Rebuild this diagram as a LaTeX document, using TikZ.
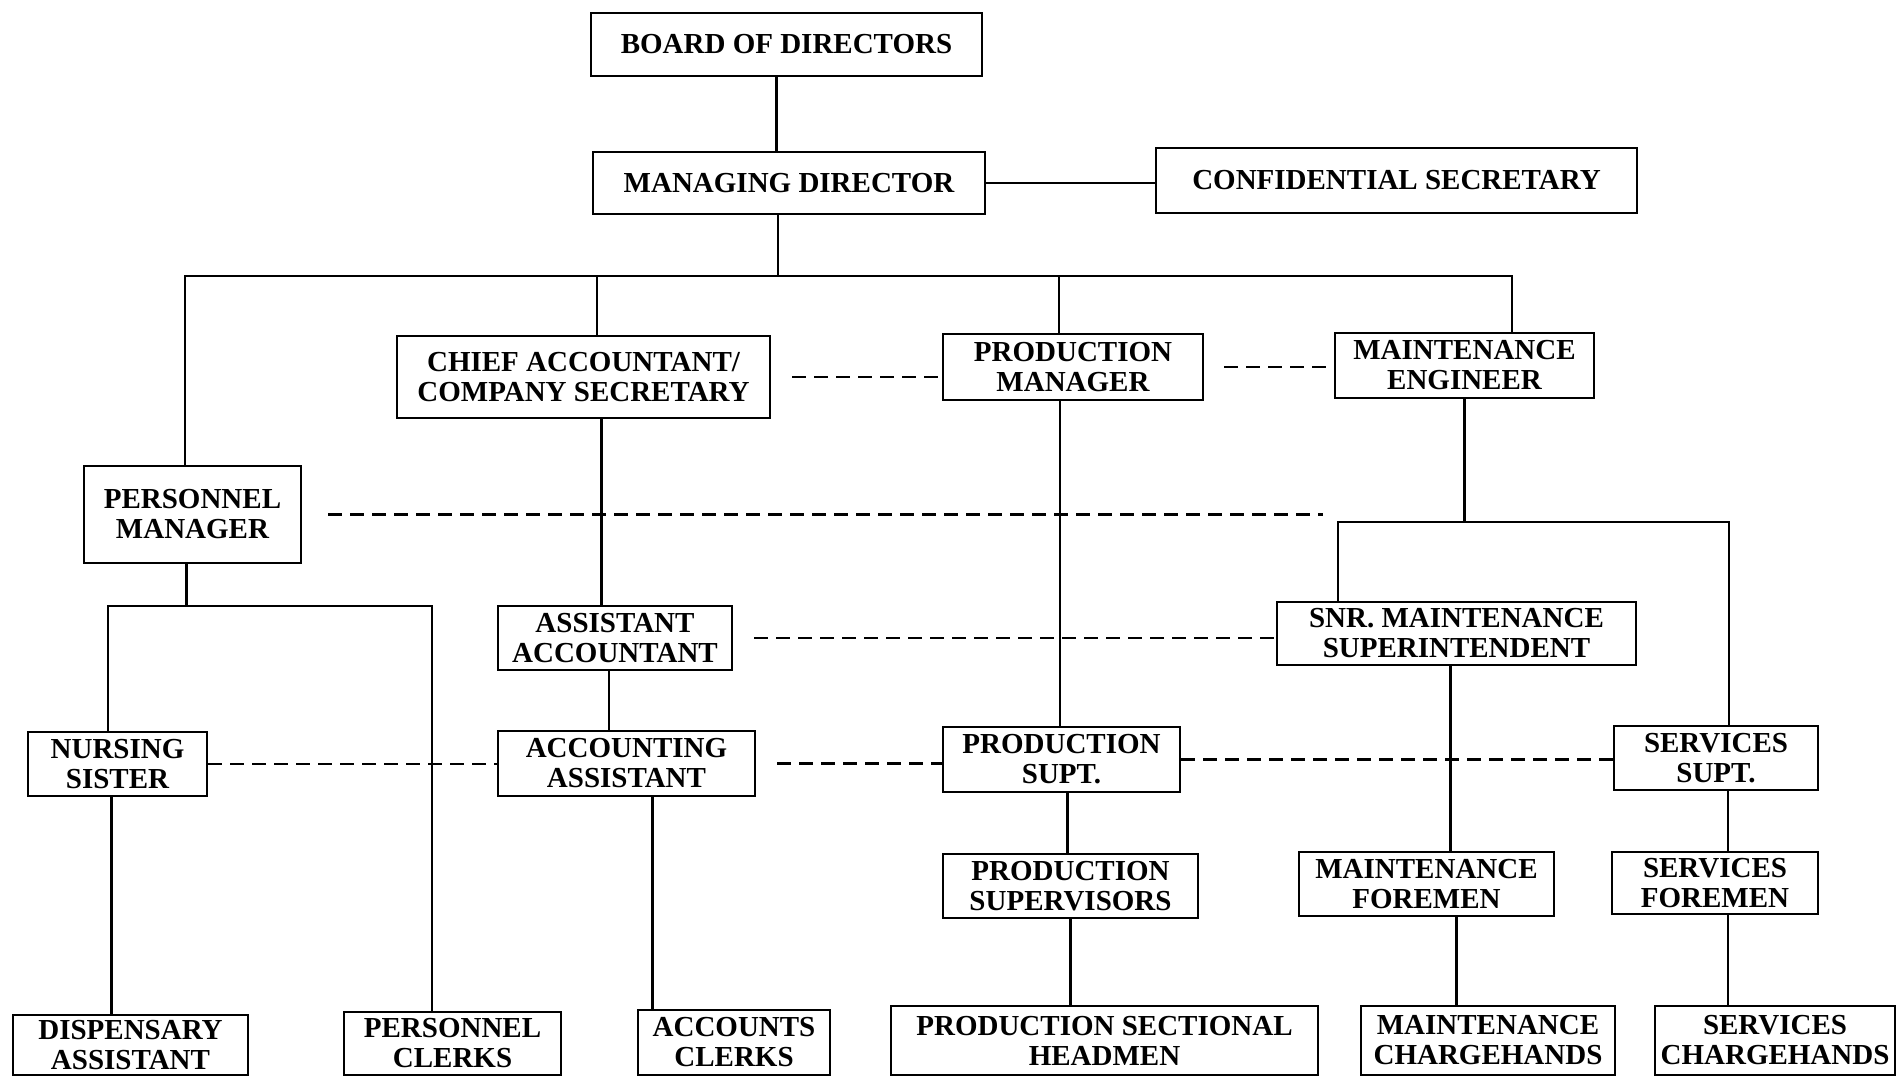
\documentclass[tikz,border=0pt]{standalone}
\usepackage{fontspec}
\setmainfont{Liberation Serif}
\usetikzlibrary{calc}

\begin{document}
\begin{tikzpicture}[x=0.5pt, y=-0.5pt, line width=1.1pt,
  post/.style={draw, line width=1.3pt, inner sep=0pt, align=center,
    font=\fontsize{14.5}{15}\selectfont\bfseries},
  staffline/.style={dash pattern=on 7pt off 4pt}]
\useasboundingbox (0,0) rectangle (1899,1077);
\clip (0,0) rectangle (1899,1077);
\fill[white] (0,0) rectangle (1899,1077);

% posts: name / left / top / right / bottom / title
\foreach \nm/\xa/\ya/\xb/\yb/\txt in {
  board/591/13/982/76/{BOARD OF DIRECTORS},
  md/593/152/985/214/{MANAGING DIRECTOR},
  conf/1156/148/1637/213/{CONFIDENTIAL SECRETARY},
  chief/397/336/770/418/{CHIEF ACCOUNTANT/\\COMPANY SECRETARY},
  pm/943/334/1203/400/{PRODUCTION\\MANAGER},
  me/1335/333/1594/398/{MAINTENANCE\\ENGINEER},
  pers/84/466/301/563/{PERSONNEL\\MANAGER},
  aa/498/606/732/670/{ASSISTANT\\ACCOUNTANT},
  snr/1277/602/1636/665/{SNR. MAINTENANCE\\SUPERINTENDENT},
  nurse/28/732/207/796/{NURSING\\SISTER},
  acas/498/731/755/796/{ACCOUNTING\\ASSISTANT},
  ps/943/727/1180/792/{PRODUCTION\\SUPT.},
  ss/1614/726/1818/790/{SERVICES\\SUPT.},
  psup/943/854/1198/918/{PRODUCTION\\SUPERVISORS},
  mf/1299/852/1554/916/{MAINTENANCE\\FOREMEN},
  sf/1612/852/1818/914/{SERVICES\\FOREMEN},
  disp/13/1015/248/1075/{DISPENSARY\\ASSISTANT},
  pc/344/1012/561/1075/{PERSONNEL\\CLERKS},
  ac/638/1010/830/1075/{ACCOUNTS\\CLERKS},
  psh/891/1006/1318/1075/{PRODUCTION SECTIONAL\\HEADMEN},
  mc/1361/1006/1615/1075/{MAINTENANCE\\CHARGEHANDS},
  sc/1655/1006/1895/1075/{SERVICES\\CHARGEHANDS}}
  \node[post, minimum width={(\xb-\xa)*0.5pt}, minimum height={(\yb-\ya)*0.5pt}]
    (\nm) at ({(\xa+\xb)/2},{(\ya+\yb)/2}) {\txt};

% line of command
\draw ([xshift=-5pt]board.south) -- ([xshift=-5pt]board.south |- md.north);
\draw (md.east) -- (md.east -| conf.west);
\coordinate (busL) at (185,276);
\coordinate (busR) at (1512,276);
\draw ([xshift=-5.5pt]md.south) -- ([xshift=-5.5pt]md.south |- busL);
\draw (pers.north -| busL) -- (busL) -- (busR) -- (busR |- me.north);
\draw ([xshift=6.75pt]chief.north) -- ([xshift=6.75pt]chief.north |- busL);
\draw ([xshift=-7pt]pm.north) -- ([xshift=-7pt]pm.north |- busL);

\draw ([xshift=9pt]chief.south) -- ([xshift=9pt]chief.south |- aa.north);
\draw ([xshift=-3pt]aa.south) -- ([xshift=-3pt]aa.south |- acas.north);
\draw ([xshift=13pt]acas.south) -- ([xshift=13pt]acas.south |- ac.north);
\draw ([xshift=-6.5pt]pm.south) -- ([xshift=-6.5pt]pm.south |- ps.north);
\draw ([xshift=3pt]ps.south) -- ([xshift=3pt]ps.south |- psup.north);
\draw (psup.south) -- (psup.south |- psh.north);

\coordinate (bus2L) at (1338,522);
\coordinate (bus2R) at (1729,522);
\draw (me.south) -- (me.south |- bus2L);
\draw (snr.north -| bus2L) -- (bus2L) -- (bus2R) -- (bus2R |- ss.north);
\draw ([xshift=-3pt]snr.south) -- ([xshift=-3pt]snr.south |- mf.north);
\draw ([xshift=15pt]mf.south) -- ([xshift=15pt]mf.south |- mc.north);
\draw ([xshift=6pt]ss.south) -- ([xshift=6pt]ss.south |- sf.north);
\draw ([xshift=6.5pt]sf.south) -- ([xshift=6.5pt]sf.south |- sc.north);

\coordinate (bus3L) at (108,606);
\coordinate (bus3R) at (432,606);
\draw ([xshift=-3pt]pers.south) -- ([xshift=-3pt]pers.south |- bus3L);
\draw (nurse.north -| bus3L) -- (bus3L) -- (bus3R) -- (bus3R |- pc.north);
\draw ([xshift=-3pt]nurse.south) -- ([xshift=-3pt]nurse.south |- disp.north);

% staff relations
\coordinate (persend) at (1323,513);
\draw[staffline] ([xshift=10.5pt]chief.east) -- (chief.east -| pm.west);
\draw[staffline] ([xshift=10pt]pm.east) -- ([xshift=-2pt]pm.east -| me.west);
\draw[staffline] ([xshift=13pt]pers.east) -- (pers.east -| persend);
\draw[staffline] ([xshift=10.5pt]aa.east) -- (aa.east -| snr.west);
\draw[staffline] (nurse.east) -- (nurse.east -| acas.west);
\draw[staffline] ([xshift=10.5pt]acas.east) -- (acas.east -| ps.west);
\draw[staffline] (ps.east) -- (ps.east -| ss.west);

\end{tikzpicture}
\end{document}
